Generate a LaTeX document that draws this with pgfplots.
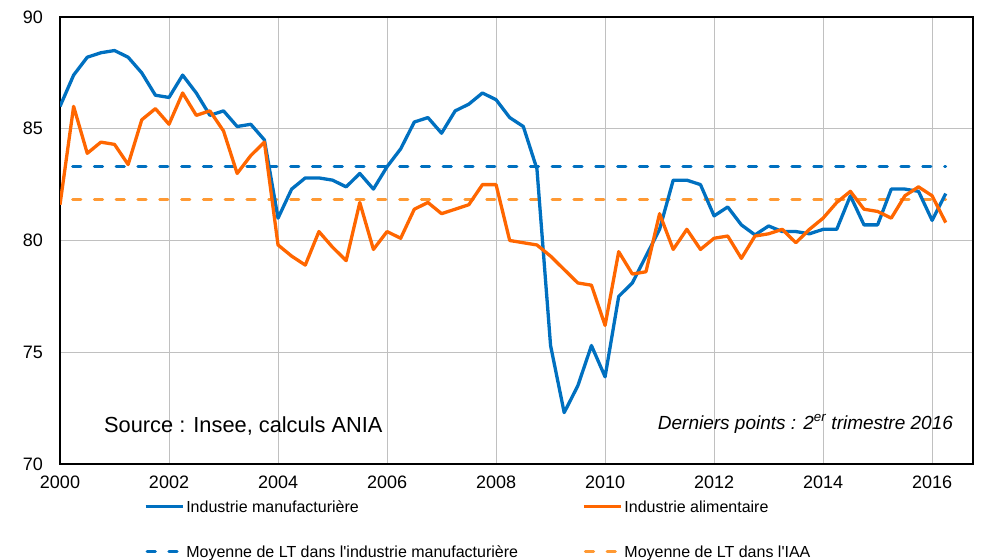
\documentclass[border=0pt]{standalone}
\usepackage{fontspec}
\setmainfont{Liberation Sans}
\usepackage{pgfplots}
\pgfplotsset{compat=1.18}
\usepackage{pgfplotstable}
\definecolor{cblue}{HTML}{0070C0}
\definecolor{corange}{HTML}{FF6600}
\definecolor{clorange}{HTML}{FF9933}
\definecolor{cgrid}{HTML}{C0C0C0}

\pgfplotstableread{
x blue orange
2000.00 86.0 81.6
2000.25 87.4 86.0
2000.50 88.2 83.9
2000.75 88.4 84.4
2001.00 88.5 84.3
2001.25 88.2 83.4
2001.50 87.5 85.4
2001.75 86.5 85.9
2002.00 86.4 85.2
2002.25 87.4 86.6
2002.50 86.6 85.6
2002.75 85.6 85.8
2003.00 85.8 84.9
2003.25 85.1 83.0
2003.50 85.2 83.8
2003.75 84.5 84.4
2004.00 81.0 79.8
2004.25 82.3 79.3
2004.50 82.8 78.9
2004.75 82.8 80.4
2005.00 82.7 79.7
2005.25 82.4 79.1
2005.50 83.0 81.7
2005.75 82.3 79.6
2006.00 83.3 80.4
2006.25 84.1 80.1
2006.50 85.3 81.4
2006.75 85.5 81.7
2007.00 84.8 81.2
2007.25 85.8 81.4
2007.50 86.1 81.6
2007.75 86.6 82.5
2008.00 86.3 82.5
2008.25 85.5 80.0
2008.50 85.1 79.9
2008.75 83.2 79.8
2009.00 75.3 79.3
2009.25 72.3 78.7
2009.50 73.5 78.1
2009.75 75.3 78.0
2010.00 73.9 76.2
2010.25 77.5 79.5
2010.50 78.1 78.5
2010.75 79.3 78.6
2011.00 80.5 81.2
2011.25 82.7 79.6
2011.50 82.7 80.5
2011.75 82.5 79.6
2012.00 81.1 80.1
2012.25 81.5 80.2
2012.50 80.7 79.2
2012.75 80.25 80.2
2013.00 80.65 80.3
2013.25 80.4 80.5
2013.50 80.4 79.9
2013.75 80.3 80.5
2014.00 80.5 81.0
2014.25 80.5 81.7
2014.50 82.0 82.2
2014.75 80.7 81.4
2015.00 80.7 81.3
2015.25 82.3 81.0
2015.50 82.3 82.0
2015.75 82.2 82.4
2016.00 80.9 82.0
2016.25 82.1 80.8
}\datatab

\pgfplotstableread{
x mblue morange
2000.00 83.33 81.83
2016.25 83.33 81.83
}\meantab

\begin{document}
\begin{tikzpicture}
\useasboundingbox (0bp,0bp) rectangle (981bp,560bp);
\begin{axis}[
  at={(60bp,96bp)}, anchor=south west,
  scale only axis, width=913bp, height=447bp,
  xmin=2000, xmax=2016.75, ymin=70, ymax=90,
  xtick={2000,2002,2004,2006,2008,2010,2012,2014,2016},
  xticklabels={2000,2002,2004,2006,2008,2010,2012,2014,2016},
  ytick={70,75,80,85,90},
  yticklabels={70,75,80,85,90},
  grid=major,
  major grid style={cgrid, line width=1bp},
  major tick length=0pt,
  axis line style={black, line width=1.4bp},
  ticklabel style={font=\fontsize{18bp}{20bp}\selectfont},
  yticklabel style={anchor=east, inner sep=0pt, xshift=-17bp},
  xticklabel style={anchor=north, inner sep=0pt, yshift=-11.7bp},
  legend columns=2,
  legend cell align=left,
  legend image code/.code={\draw[#1] (0bp,0bp) -- (37bp,0bp);},
  legend style={at={(0.092,-0.0826)}, anchor=north west, draw=none, fill=none,
    inner sep=0pt, outer sep=0pt, row sep=33.4bp, column sep=2bp,
    font=\fontsize{16bp}{18bp}\selectfont,
    nodes={inner sep=0pt, text height=11.6bp, text depth=0pt},
    /tikz/every even column/.append style={column sep=64bp}},
]
\addplot[cblue, line width=2.9bp, dash pattern=on 8.3bp off 13.5bp, dash phase=9.3bp, line cap=round, forget plot] table[x=x, y=mblue] {\meantab};
\addplot[clorange, line width=2.9bp, dash pattern=on 8.3bp off 13.5bp, dash phase=9.3bp, line cap=round, forget plot] table[x=x, y=morange] {\meantab};
\addplot[cblue, line width=3.3bp, line join=round, forget plot] table[x=x, y=blue] {\datatab};
\addplot[corange, line width=3.3bp, line join=round, forget plot] table[x=x, y=orange] {\datatab};

\addlegendimage{cblue, line width=3.3bp}
\addlegendentry{Industrie manufacturière}
\addlegendimage{corange, line width=3.3bp}
\addlegendentry{Industrie alimentaire}
\addlegendimage{cblue, line width=2.9bp, dash pattern=on 8.3bp off 13.5bp, dash phase=-1.5bp, line cap=round}
\addlegendentry{Moyenne de LT dans l\textquotesingle industrie manufacturière}
\addlegendimage{clorange, line width=2.9bp, dash pattern=on 8.3bp off 13.5bp, dash phase=-1.5bp, line cap=round}
\addlegendentry{Moyenne de LT dans l\textquotesingle IAA}

\node[anchor=base west, inner sep=0pt, font=\fontsize{21.8bp}{24bp}\selectfont] at (axis cs:2000.807,71.42) {Source : Insee, calculs ANIA};
\node[anchor=base east, inner sep=0pt, font=\itshape\fontsize{19bp}{22bp}\selectfont] at (axis cs:2016.385,71.55) {Derniers points : 2\textsuperscript{er} trimestre 2016};
\end{axis}
\end{tikzpicture}
\end{document}
